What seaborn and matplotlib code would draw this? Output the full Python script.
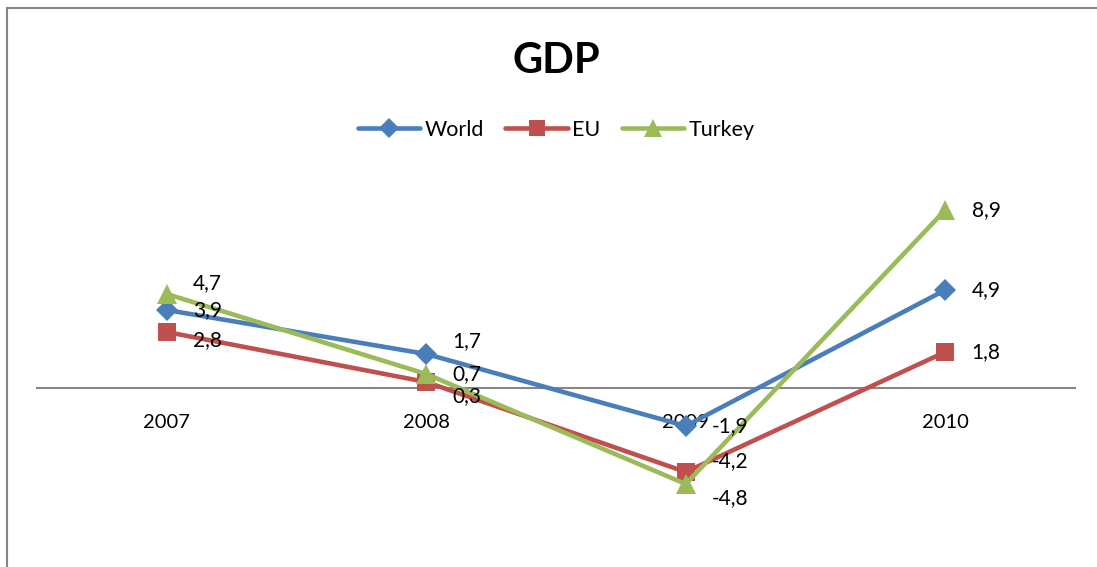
import matplotlib
matplotlib.use("Agg")
import matplotlib.pyplot as plt
from matplotlib.lines import Line2D
import seaborn as sns
import pandas as pd

years = [2007, 2008, 2009, 2010]
world = [3.9, 1.7, -1.9, 4.9]
eu = [2.8, 0.3, -4.2, 1.8]
turkey = [4.7, 0.7, -4.8, 8.9]
series_names = ["World", "EU", "Turkey"]

df = pd.DataFrame({
    "year": years * 3,
    "value": world + eu + turkey,
    "series": [s for s in series_names for _ in years],
})

colors = {"World": "#4A7EBB", "EU": "#C0504D", "Turkey": "#9BBB59"}
markers = {"World": "D", "EU": "s", "Turkey": "^"}
msizes = {"World": 11, "EU": 13, "Turkey": 15}

sns.set_theme(style="white")
plt.rcParams["font.family"] = ["Lato", "DejaVu Sans"]
plt.rcParams["text.color"] = "black"

fig = plt.figure(figsize=(10.97, 5.67), dpi=100)
ax = fig.add_axes([37 / 1097, 1 - 502 / 567, 1038 / 1097, 304 / 567])

sns.lineplot(data=df, x="year", y="value", hue="series", style="series",
             palette=colors, markers=markers, dashes=False, lw=3.3,
             markeredgewidth=0, ax=ax, legend=False)
for line, name in zip(ax.lines, series_names):
    line.set_markersize(msizes[name])

# value labels to the right of each point; a few are nudged vertically
# where neighbouring points sit close together
nudge = {("EU", 2008): -10, ("Turkey", 2008): 0, ("World", 2008): 9,
         ("EU", 2009): 8, ("Turkey", 2009): -10,
         ("World", 2007): 0, ("EU", 2007): -6, ("Turkey", 2007): 8}
for name, vals in zip(series_names, [world, eu, turkey]):
    for x, v in zip(years, vals):
        ax.annotate(f"{v:.1f}".replace(".", ","), (x, v),
                    xytext=(19, nudge.get((name, x), 0)),
                    textcoords="offset points", ha="left", va="center",
                    fontsize=15, color="black")

ax.set_xlim(2006.5, 2010.5)
ax.set_ylim(-5.7, 9.5)
ax.set_xticks(years)
ax.set_xticklabels([str(y) for y in years])
ax.set_yticks([])
ax.set_xlabel("")
ax.set_ylabel("")
for side in ["top", "right", "left"]:
    ax.spines[side].set_visible(False)
ax.spines["bottom"].set_position(("data", 0))
ax.spines["bottom"].set_color("#868686")
ax.spines["bottom"].set_linewidth(1.5)
ax.spines["bottom"].set_zorder(0)
ax.tick_params(axis="x", length=0, pad=19, labelsize=14.5,
               labelcolor="black")
ax.patch.set_alpha(0)

fig.text(0.507, 1 - 61 / 567, "GDP", ha="center", va="center",
         fontsize=30, fontweight="bold", color="black")

handles = [Line2D([], [], color=colors[n], marker=markers[n], lw=3.3,
                  markersize=msizes[n] * 0.9, markeredgewidth=0)
           for n in series_names]
fig.legend(handles, series_names, loc="center", ncol=3, frameon=False,
           bbox_to_anchor=(0.507, 1 - 130 / 567), fontsize=15.5,
           handlelength=2.9, handletextpad=0.2, columnspacing=1.0)

# chart frame
fig.add_artist(Line2D([7 / 1097, 1], [1 - 8 / 567, 1 - 8 / 567],
                      transform=fig.transFigure, color="#868686", lw=1.5))
fig.add_artist(Line2D([7 / 1097, 7 / 1097], [0, 1 - 8 / 567],
                      transform=fig.transFigure, color="#868686", lw=1.5))

fig.savefig("out.png", dpi=100)
